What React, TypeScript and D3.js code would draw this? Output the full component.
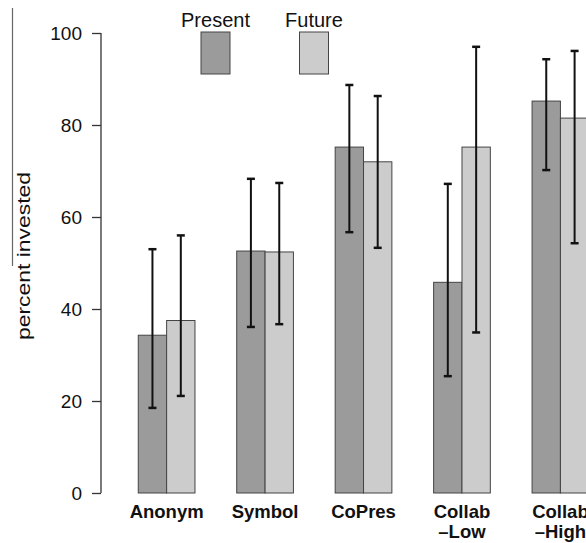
import React, { Component } from 'react'
import * as d3 from 'd3';

const categories = ['Anonym', 'Symbol', 'CoPres', 'Collab-Low', 'Collab-High'];
const categoryLabels = [['Anonym'], ['Symbol'], ['CoPres'], ['Collab', '\u2013Low'], ['Collab', '\u2013High']];
const seriesNames = ['Present', 'Future'];

const presentValues = [34.3, 52.6, 75.2, 45.8, 85.2];
const futureValues = [37.5, 52.4, 72.0, 75.2, 81.5];

// error bar ends
const presentLow = [18.5, 36.1, 56.7, 25.4, 70.2];
const presentHigh = [53.0, 68.3, 88.7, 67.2, 94.3];
const futureLow = [21.1, 36.7, 53.3, 34.9, 54.3];
const futureHigh = [56.0, 67.4, 86.3, 97.0, 96.1];

const yTicks = [0, 20, 40, 60, 80, 100];

const COLORS = { Present: '#9b9b9b', Future: '#cccccc' };
const FONT = '"Liberation Sans", Arial, Helvetica, sans-serif';

export default class App extends Component {

    svgEl: SVGSVGElement | null = null;

    componentDidMount() {
        this.draw();
    }

    draw() {
        const svg = d3.select(this.svgEl);
        svg.selectAll('*').remove();

        const y = d3.scaleLinear().domain([0, 100]).range([493, 33]);

        const x = d3.scaleBand()
                    .domain(categories)
                    .range([117.4, 117.4 + 5 * 98.45])
                    .paddingInner(0.424)
                    .paddingOuter(0.212);

        const xSub = d3.scaleBand()
                       .domain(seriesNames)
                       .range([0, x.bandwidth()]);

        const rows = categories.map((c, i) => ({
            cat: c,
            bars: [
                { name: 'Present', value: presentValues[i], lo: presentLow[i], hi: presentHigh[i] },
                { name: 'Future', value: futureValues[i], lo: futureLow[i], hi: futureHigh[i] },
            ]
        }));

        // bars
        const groups = svg.selectAll('.group')
                          .data(rows)
                          .enter()
                          .append('g')
                          .attr('class', 'group')
                          .attr('transform', d => `translate(${x(d.cat)},0)`);

        groups.selectAll('rect')
              .data(d => d.bars)
              .enter()
              .append('rect')
              .attr('x', d => xSub(d.name))
              .attr('y', d => y(d.value))
              .attr('width', xSub.bandwidth())
              .attr('height', d => y(0) - y(d.value))
              .attr('fill', d => COLORS[d.name])
              .attr('stroke', '#444')
              .attr('stroke-width', 1);

        // error bars
        const err = groups.selectAll('.err')
                          .data(d => d.bars)
                          .enter()
                          .append('g')
                          .attr('class', 'err')
                          .attr('transform', d => `translate(${xSub(d.name) + xSub.bandwidth() / 2},0)`)
                          .attr('stroke', '#111')
                          .attr('stroke-width', 2);

        err.append('line')
           .attr('x1', 0).attr('x2', 0)
           .attr('y1', d => y(d.lo))
           .attr('y2', d => y(d.hi));
        err.append('line')
           .attr('x1', -4).attr('x2', 4)
           .attr('y1', d => y(d.lo)).attr('y2', d => y(d.lo))
           .attr('stroke-width', 2.5);
        err.append('line')
           .attr('x1', -4).attr('x2', 4)
           .attr('y1', d => y(d.hi)).attr('y2', d => y(d.hi))
           .attr('stroke-width', 2.5);

        // y axis
        const yAxis = d3.axisLeft(y)
                        .tickValues(yTicks)
                        .tickSize(9)
                        .tickPadding(10);
        const axisG = svg.append('g')
                         .attr('transform', 'translate(101,0)')
                         .call(yAxis);
        axisG.select('.domain').remove();
        axisG.append('line')
             .attr('x1', 0).attr('x2', 0)
             .attr('y1', y(0)).attr('y2', y(100))
             .attr('stroke', '#333')
             .attr('stroke-width', 1.3);
        axisG.selectAll('.tick line').attr('stroke', '#333').attr('stroke-width', 1.3);
        axisG.selectAll('.tick text')
             .attr('font-family', FONT)
             .attr('font-size', 19)
             .attr('fill', '#111');

        // category labels
        const labels = svg.selectAll('.cat-label')
                          .data(rows)
                          .enter()
                          .append('text')
                          .attr('class', 'cat-label')
                          .attr('text-anchor', 'middle')
                          .attr('font-family', FONT)
                          .attr('font-weight', 'bold')
                          .attr('font-size', 18.5)
                          .attr('fill', '#111');
        labels.selectAll('tspan')
              .data((d, i) => categoryLabels[i].map(t => ({ t, cx: x(d.cat) + x.bandwidth() / 2 })))
              .enter()
              .append('tspan')
              .attr('x', d => d.cx)
              .attr('y', (d, i) => 518 + i * 20)
              .text(d => d.t);

        // y label + stray line on the left
        svg.append('line')
           .attr('x1', 12.5).attr('x2', 12.5)
           .attr('y1', 8).attr('y2', 266)
           .attr('stroke', '#666')
           .attr('stroke-width', 1.2);
        svg.append('text')
           .attr('transform', 'translate(30,256) rotate(-90)')
           .attr('text-anchor', 'middle')
           .attr('font-family', FONT)
           .attr('font-size', 19)
           .attr('fill', '#111')
           .attr('textLength', 168)
           .attr('lengthAdjust', 'spacingAndGlyphs')
           .text('percent  invested');

        // legend
        const legendX = [215.5, 314];
        const legend = svg.selectAll('.legend')
                          .data(seriesNames)
                          .enter()
                          .append('g')
                          .attr('class', 'legend')
                          .attr('transform', (d, i) => `translate(${legendX[i]},0)`);
        legend.append('text')
              .attr('text-anchor', 'middle')
              .attr('y', 27)
              .attr('font-family', FONT)
              .attr('font-size', 20)
              .attr('fill', '#111')
              .text(d => d);
        legend.append('rect')
              .attr('x', -14.5)
              .attr('y', 32)
              .attr('width', 29)
              .attr('height', 42)
              .attr('fill', d => COLORS[d])
              .attr('stroke', '#444')
              .attr('stroke-width', 1);
    }

    render() {
        return (
            <svg ref={el => this.svgEl = el}
                 width={586}
                 height={543}
                 style={{ position: 'absolute', left: 0, top: 0, background: '#fff', overflow: 'hidden' }} />
        )
    }
}
